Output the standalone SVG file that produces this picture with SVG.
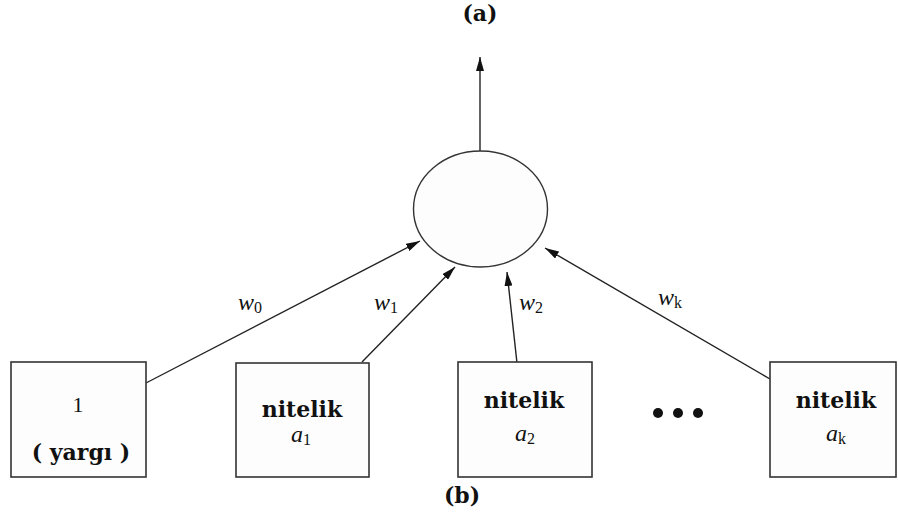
<svg xmlns="http://www.w3.org/2000/svg" width="898" height="518" viewBox="0 0 898 518">
<defs>
<marker id="ah" viewBox="0 0 14 8" refX="14" refY="4" markerWidth="14" markerHeight="8" markerUnits="userSpaceOnUse" orient="auto">
<path d="M0,0 L14,4 L0,8 Z" fill="#111"/>
</marker>
</defs>
<style>
.box{fill:#fdfdfd;stroke:#333;stroke-width:1.6}
.t{font-family:'Liberation Serif','Times New Roman',serif;fill:#111;text-anchor:middle}
.b{font-family:'DejaVu Serif','Liberation Serif',serif;font-weight:bold;font-size:22px}
.i{font-style:italic;font-size:24px}
.sub{font-style:normal;font-size:16px}
.ln{stroke:#222;stroke-width:1.4;fill:none;marker-end:url(#ah)}
</style>
<rect width="898" height="518" fill="#fff"/>
<text class="t b" x="480" y="21" font-size="19">(a)</text>
<text class="t b" x="462" y="503" font-size="19">(b)</text>
<g id="connectors">
<line class="ln" x1="480" y1="151" x2="480" y2="57" stroke="#555"/>
<line class="ln" x1="146" y1="383" x2="420" y2="241"/>
<line class="ln" x1="362" y1="362" x2="455" y2="267"/>
<line class="ln" x1="517" y1="363" x2="507" y2="272"/>
<line class="ln" x1="770" y1="379" x2="545" y2="248"/>
<text class="t i" x="250" y="310">w<tspan class="sub" dy="3">0</tspan></text>
<text class="t i" x="386" y="310">w<tspan class="sub" dy="3">1</tspan></text>
<text class="t i" x="531" y="310">w<tspan class="sub" dy="3">2</tspan></text>
<text class="t i" x="670" y="305">w<tspan class="sub" dy="3">k</tspan></text>
</g>
<g id="neuron">
<ellipse cx="480.5" cy="209" rx="67" ry="58" fill="#fdfdfd" stroke="#333" stroke-width="1.4"/>
</g>
<g id="bias">
<rect class="box" x="11" y="362" width="135" height="115"/>
<text class="t" x="78" y="412" font-size="22">1</text>
<text class="t b" x="81" y="460" font-size="16.5">( yargı )</text>
</g>
<g id="attr1">
<rect class="box" x="236" y="363" width="133" height="114"/>
<text class="t b" x="302" y="417">nitelik</text>
<text class="t i" x="301" y="442">a<tspan class="sub" dy="3">1</tspan></text>
</g>
<g id="attr2">
<rect class="box" x="458" y="362" width="134" height="115"/>
<text class="t b" x="524" y="408">nitelik</text>
<text class="t i" x="525" y="441">a<tspan class="sub" dy="3">2</tspan></text>
</g>
<g id="dots">
<circle cx="658" cy="413" r="5" fill="#111"/>
<circle cx="678" cy="413" r="5" fill="#111"/>
<circle cx="698" cy="413" r="5" fill="#111"/>
</g>
<g id="attrk">
<rect class="box" x="770" y="362" width="126" height="115"/>
<text class="t b" x="836" y="408">nitelik</text>
<text class="t i" x="836" y="441">a<tspan class="sub" dy="3">k</tspan></text>
</g>
</svg>
